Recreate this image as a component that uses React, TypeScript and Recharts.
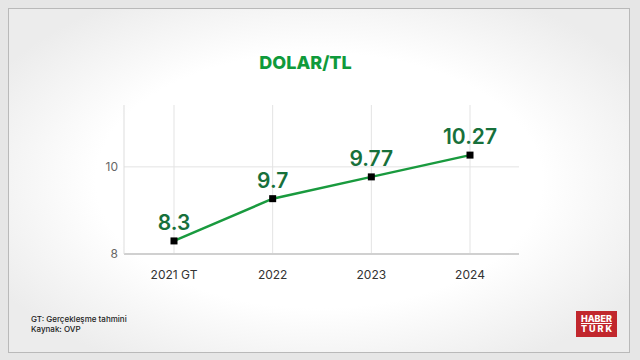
import React from "react";
import { LineChart, Line, XAxis, YAxis, ReferenceLine, LabelList } from "recharts";

const categories = ["2021 GT", "2022", "2023", "2024"];
const values = [8.3, 9.27, 9.77, 10.27];
const valueLabels = ["8.3", "9.7", "9.77", "10.27"];
const yTicks = [8, 10];
const gridY = [10];

const data = categories.map((c, i) => ({ name: c, value: values[i], label: valueLabels[i] }));

const FONT = "Inter, 'Noto Sans', sans-serif";

const SquareDot = (props: any) => {
  const { cx, cy } = props;
  if (cx == null || cy == null) return null;
  return <rect x={cx - 3.5} y={cy - 3.5} width={7} height={7} fill="#000" />;
};

const renderLabel = (props: any) => {
  const { x, y, index } = props;
  return (
    <text
      x={x}
      y={y - 11}
      textAnchor="middle"
      fill="#17703b"
      fontSize={21}
      fontWeight={600}
      fontFamily={FONT}
    >
      {valueLabels[index]}
    </text>
  );
};

export default function App() {
  return (
    <div
      style={{
        position: "absolute",
        left: 0,
        top: 0,
        width: 640,
        height: 360,
        background: "#e6e6e6",
        overflow: "hidden",
      }}
    >
      <div
        style={{
          position: "absolute",
          left: 8,
          top: 8,
          width: 620,
          height: 343,
          border: "1px solid #b9b9b9",
          background:
            "radial-gradient(ellipse 60% 62% at 50% 50%, #ffffff 0%, #ffffff 60%, #ececec 100%)",
        }}
      />
      <div style={{ position: "absolute", left: 0, top: 0 }}>
        <LineChart
          width={640}
          height={360}
          data={data}
          margin={{ top: 105, right: 121, bottom: 76, left: 0 }}
        >
          <XAxis
            dataKey="name"
            tickLine={false}
            tickSize={6}
            tickMargin={10}
            padding={{ left: 50, right: 49 }}
            axisLine={{ stroke: "#d0d0d0", strokeWidth: 2 }}
            tick={{ fill: "#333", fontSize: 12, fontFamily: FONT }}
            height={30}
          />
          <YAxis
            domain={[8, 11.42]}
            ticks={yTicks}
            width={124}
            tickLine={false}
            tickSize={4}
            tickMargin={2}
            axisLine={{ stroke: "#dddddd", strokeWidth: 1 }}
            tick={{ fill: "#666", fontSize: 12, fontFamily: FONT }}
          />
          {categories.map((c) => (
            <ReferenceLine key={c} x={c} stroke="#e3e3e3" strokeWidth={1} />
          ))}
          {gridY.map((v) => (
            <ReferenceLine key={"y" + v} y={v} stroke="#e3e3e3" strokeWidth={1} />
          ))}
          <Line
            type="linear"
            dataKey="value"
            stroke="#199a3e"
            strokeWidth={2.5}
            dot={<SquareDot />}
            activeDot={false}
            isAnimationActive={false}
          >
            <LabelList dataKey="label" content={renderLabel} />
          </Line>
        </LineChart>
      </div>
      <div
        style={{
          position: "absolute",
          left: 0,
          width: 611,
          top: 52,
          textAlign: "center",
          color: "#0f9a3b",
          fontFamily: FONT,
          fontWeight: 800,
          fontSize: 18,
          lineHeight: "22px",
        }}
      >
        DOLAR/TL
      </div>
      <div
        style={{
          position: "absolute",
          left: 31,
          top: 314,
          color: "#222",
          fontFamily: FONT,
          fontWeight: 500,
          fontSize: 8,
          lineHeight: "10px",
        }}
      >
        <div>GT: Gerçekleşme tahmini</div>
        <div>Kaynak: OVP</div>
      </div>
      <div
        style={{
          position: "absolute",
          left: 576,
          top: 311,
          width: 41,
          height: 26,
          background: "#c1272d",
          color: "#fff",
          fontFamily: FONT,
          fontWeight: 800,
          fontSize: 9,
          lineHeight: "10px",
          textAlign: "center",
          boxSizing: "border-box",
          paddingTop: 3,
        }}
      >
        <div style={{ textDecoration: "underline", textDecorationThickness: 1 }}>HABER</div>
        <div style={{ letterSpacing: 2, paddingLeft: 2 }}>TÜRK</div>
      </div>
    </div>
  );
}
